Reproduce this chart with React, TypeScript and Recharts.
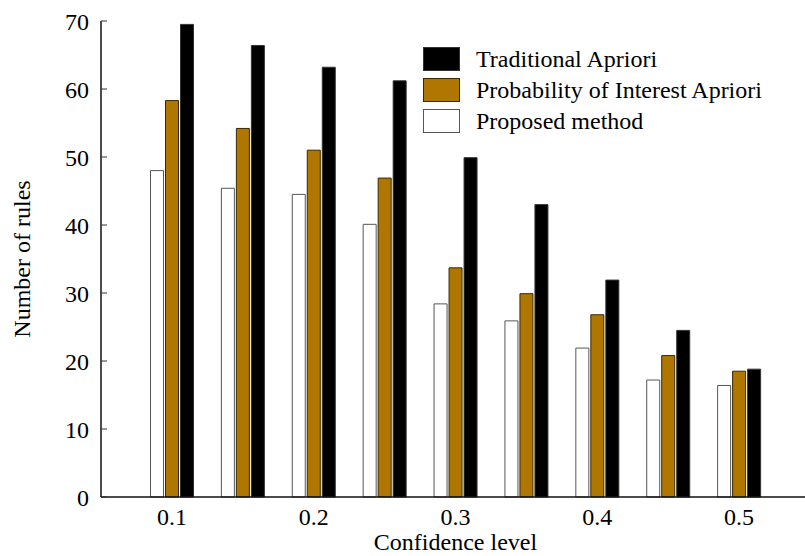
import React from "react"
import { BarChart, Bar, XAxis, YAxis } from "recharts"

const levels = ["0.1", "0.15", "0.2", "0.25", "0.3", "0.35", "0.4", "0.45", "0.5"]
const proposed = [48.0, 45.4, 44.5, 40.1, 28.4, 25.9, 21.9, 17.2, 16.4]
const probability = [58.3, 54.2, 51.0, 46.9, 33.7, 29.9, 26.8, 20.8, 18.5]
const traditional = [69.5, 66.4, 63.2, 61.2, 49.9, 43.0, 31.9, 24.5, 18.8]
const yTicks = [0, 10, 20, 30, 40, 50, 60, 70]

const data = levels.map((level, i) => ({
  level,
  proposed: proposed[i],
  probability: probability[i],
  traditional: traditional[i],
}))

const series = [
  { key: "traditional", name: "Traditional Apriori", fill: "#000000", stroke: "#333333" },
  { key: "probability", name: "Probability of Interest Apriori", fill: "#b07700", stroke: "#3a2800" },
  { key: "proposed", name: "Proposed method", fill: "#ffffff", stroke: "#555555" },
]

const font = "'Liberation Serif', 'Times New Roman', serif"
const tickStyle = { fill: "#000", fontSize: 24, fontFamily: font }
const axisLine = { stroke: "#111", strokeWidth: 1.5 }

function YLabel(props: any) {
  const vb = props.viewBox || {}
  const cx = 22
  const cy = vb.y + vb.height / 2
  return (
    <text x={cx} y={cy} transform={`rotate(-90 ${cx} ${cy})`} textAnchor="middle"
      dominantBaseline="central" fontSize={24} fontFamily={font} fill="#000">
      Number of rules
    </text>
  )
}

function XLabel(props: any) {
  const vb = props.viewBox || {}
  const cx = vb.x + vb.width / 2
  return (
    <text x={cx} y={550} textAnchor="middle" fontSize={24} fontFamily={font} fill="#000">
      Confidence level
    </text>
  )
}

export default function App() {
  // bars are drawn left to right: proposed, probability, traditional
  const order = [series[2], series[1], series[0]]
  return (
    <div style={{ position: "absolute", left: 0, top: 0, width: 805, height: 556, overflow: "hidden", background: "#fff", fontFamily: font }}>
      <BarChart width={830} height={556} data={data} barSize={13} barGap={2}
        margin={{ top: 21, right: 20, bottom: 0, left: 0 }}>
        <XAxis dataKey="level" height={59} interval={1} tickLine={false} tickSize={0} tickMargin={11}
          padding={{ left: 35.5, right: 35.5 }} axisLine={axisLine} tick={tickStyle}
          label={{ content: <XLabel /> }} />
        <XAxis xAxisId="top" orientation="top" dataKey="level" height={0} mirror interval={1}
          tickSize={6} tickFormatter={() => ""} padding={{ left: 35.5, right: 35.5 }}
          axisLine={axisLine} tickLine={{ stroke: "#333" }} />
        <YAxis width={101} domain={[0, 70]} ticks={yTicks} tickSize={-6} tickMargin={18}
          axisLine={axisLine} tickLine={{ stroke: "#333" }} tick={tickStyle}
          label={{ content: <YLabel /> }} />
        <YAxis yAxisId="right" orientation="right" width={0} mirror domain={[0, 70]} ticks={yTicks}
          tickSize={8} tickFormatter={() => ""} axisLine={axisLine} tickLine={{ stroke: "#333" }} />
        {order.map((s) => (
          <Bar key={s.key} dataKey={s.key} name={s.name} fill={s.fill} stroke={s.stroke}
            strokeWidth={1} isAnimationActive={false} />
        ))}
      </BarChart>
      <div style={{ position: "absolute", left: 423, top: 47 }}>
        {series.map((s) => (
          <div key={s.key} style={{ display: "flex", alignItems: "center", height: 31 }}>
            <div style={{ width: 35, height: 22, background: s.fill, border: `1px solid ${s.stroke}`, marginTop: -8 }} />
            <span style={{ marginLeft: 16, fontSize: 24, color: "#000", lineHeight: "24px", marginTop: -8 }}>{s.name}</span>
          </div>
        ))}
      </div>
    </div>
  )
}
